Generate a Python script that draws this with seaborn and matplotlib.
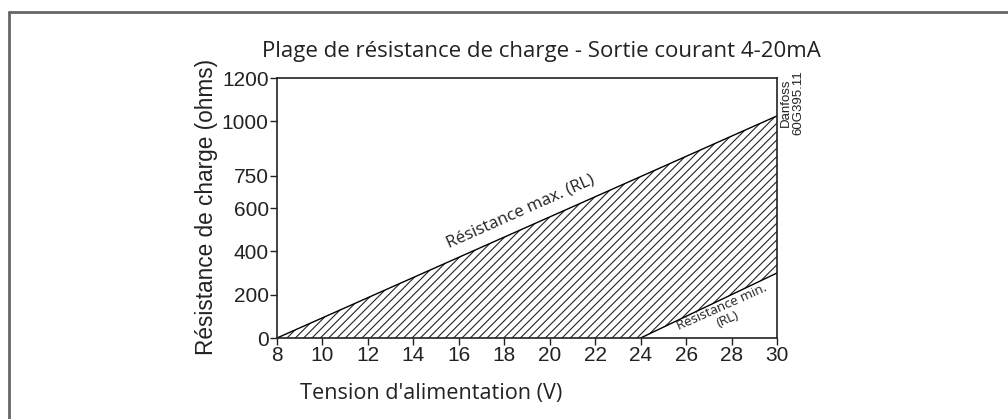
import matplotlib
matplotlib.use('Agg')
import matplotlib.pyplot as plt
import seaborn as sns
import pandas as pd

# Chart values
voltage = [8, 24, 30]
r_max = [0, 745, 1025]
r_min = [0, 0, 300]
x_ticks = [8, 10, 12, 14, 16, 18, 20, 22, 24, 26, 28, 30]
y_ticks = [0, 200, 400, 600, 750, 1000, 1200]
y_minor = [300, 800, 1100]

df = pd.DataFrame({'voltage': voltage, 'r_max': r_max, 'r_min': r_min})

sns.set_style('white')
plt.rcParams['font.family'] = ['Liberation Sans', 'DejaVu Sans']
plt.rcParams['hatch.linewidth'] = 0.8
plt.rcParams['hatch.color'] = '#222222'

fig = plt.figure(figsize=(10.08, 4.19), dpi=100)
ax = fig.add_axes([0.2748, 0.1933, 0.4960, 0.6205])

# Hatched area between max and min resistance
ax.fill_between(df['voltage'], df['r_min'], df['r_max'], facecolor='none',
                edgecolor='#222222', hatch='////', linewidth=0)
sns.lineplot(data=df, x='voltage', y='r_max', color='black', linewidth=1.0, ax=ax)
sns.lineplot(data=df.iloc[1:], x='voltage', y='r_min', color='black', linewidth=1.0, ax=ax)

ax.set_xlim(8, 30)
ax.set_ylim(0, 1200)
ax.set_xticks(x_ticks)
ax.set_yticks(y_ticks)
ax.set_yticks(y_minor, minor=True)
ax.tick_params(axis='both', which='major', labelsize=15, length=5, width=1,
               direction='out', colors='#222222', pad=1)
ax.tick_params(axis='y', which='minor', length=5, width=1, direction='out', color='#222222')
ax.tick_params(left=True, bottom=True)
for s in ax.spines.values():
    s.set_color('#222222')
    s.set_linewidth(1.2)

ax.set_xlabel('')
ax.set_ylabel('')
fig.text(0.2975, 0.062, "Tension d'alimentation (V)", fontsize=15.6, family='Open Sans',
         ha='left', va='center', color='#222222')
fig.text(0.205, 0.505, 'Résistance de charge (ohms)', fontsize=16.3, rotation=90,
         ha='center', va='center', color='#222222')
fig.text(0.537, 0.876, 'Plage de résistance de charge - Sortie courant 4-20mA',
         fontsize=16, family='Open Sans', ha='center', va='center', color='#222222')
fig.text(0.786, 0.754, 'Danfoss\n60G395.11', fontsize=9.5, rotation=90,
         ha='center', va='center', color='#222222', linespacing=1.0)

ax.text(18.7, 585, 'Résistance max. (RL)', fontsize=12.2, family='Open Sans',
        rotation=24, ha='center', va='center', color='#222222', rotation_mode='anchor')
ax.text(27.7, 115, 'Résistance min.\n(RL)', fontsize=9.6, family='Open Sans',
        rotation=24, ha='center', va='center', color='#222222', rotation_mode='anchor',
        linespacing=1.1)

# Partial frame around the figure (top and left edges)
fig.add_artist(plt.Line2D([0.009, 1.0], [0.972, 0.972], color='#666666', linewidth=2,
                          transform=fig.transFigure))
fig.add_artist(plt.Line2D([0.009, 0.009], [0.0, 0.972], color='#666666', linewidth=2,
                          transform=fig.transFigure))

fig.savefig('out.png', dpi=100)
